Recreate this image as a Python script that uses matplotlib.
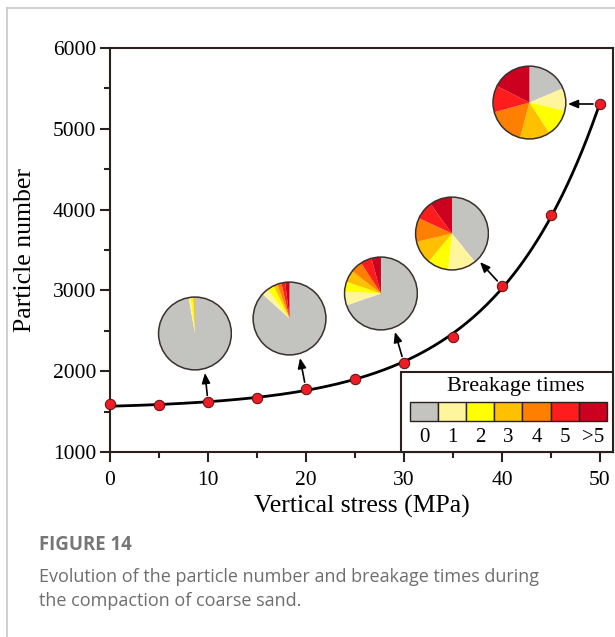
import numpy as np
import matplotlib.pyplot as plt
from matplotlib.lines import Line2D
from matplotlib.patches import Rectangle, Circle

# data
stress = [0, 5, 10, 15, 20, 25, 30, 35, 40, 45, 50]
particles = [1590, 1585, 1615, 1668, 1780, 1903, 2100, 2423, 3054, 3933, 5307]

breakage_labels = ['0', '1', '2', '3', '4', '5', '>5']
breakage_colors = ['#c3c3bf', '#fff59d', '#ffff00', '#ffc000', '#ff8000', '#ff1c1c', '#cc001f']

# pie fractions (%) at selected stresses
pie_stress = [10, 20, 30, 40, 50]
pie_10 = [97.2, 0.8, 1.2, 0.6, 0.2, 0.0, 0.0]
pie_20 = [86.7, 3.2, 2.9, 1.7, 1.9, 1.7, 1.9]
pie_30 = [69.7, 6.1, 4.4, 5.3, 5.3, 5.0, 4.2]
pie_40 = [39.2, 12.5, 9.4, 10.3, 10.6, 8.1, 10.0]
pie_50 = [18.6, 10.0, 12.2, 13.3, 16.5, 11.8, 17.5]
pie_fracs = [pie_10, pie_20, pie_30, pie_40, pie_50]
# where the pies sit (data coords) and where the arrows point
pie_cx = [8.67, 18.32, 27.65, 34.9, 42.8]
pie_cy = [2467, 2652, 2962, 3704, 5325]
arrow_x = [9.69, 19.39, 29.08, 37.76, 46.73]
arrow_y = [1978, 2163, 2485, 3351, 5307]

W, H = 615, 637
fig = plt.figure(figsize=(W / 100, H / 100), dpi=100)
ax_l, ax_r, ax_b, ax_t = 110 / W, 613 / W, 1 - 452 / H, 1 - 48 / H
ax = fig.add_axes([ax_l, ax_b, ax_r - ax_l, ax_t - ax_b])

serif = 'Liberation Serif'
spine_c = '#2a201c'
xmin, xmax, ymin, ymax = 0, 51.33, 1000, 6000
ax.set_xlim(xmin, xmax)
ax.set_ylim(ymin, ymax)

# smooth trend: y = a + b*exp(c*x), least squares
xs = np.array(stress, float)
ys = np.array(particles, float)
best = None
for c in np.linspace(0.03, 0.2, 400):
    A = np.column_stack([np.ones_like(xs), np.exp(c * xs)])
    coef, *_ = np.linalg.lstsq(A, ys, rcond=None)
    err = np.sum((A @ coef - ys) ** 2)
    if best is None or err < best[0]:
        best = (err, c, coef)
_, c, coef = best
xf = np.linspace(0, 50, 300)
ax.plot(xf, coef[0] + coef[1] * np.exp(c * xf), color='black', lw=2.0, zorder=3)
ax.plot(stress, particles, 'o', color='#ee1c24', mec='#5a1010', mew=0.7, ms=7.5, zorder=4, clip_on=False)

# arrows from points to pies
for s, hx, hy in zip(pie_stress, arrow_x, arrow_y):
    py = particles[stress.index(s)]
    ax.annotate('', xy=(hx, hy), xytext=(s, py),
                arrowprops=dict(arrowstyle='-|>,head_length=0.6,head_width=0.25',
                                color='black', lw=1.2, shrinkA=5, shrinkB=0), zorder=3)

ax.set_xticks(range(0, 51, 10))
ax.set_xticks(range(5, 51, 10), minor=True)
ax.set_yticks(range(1000, 6001, 1000))
ax.set_yticks(range(1500, 6000, 1000), minor=True)
ax.tick_params(which='major', length=7, width=1.5, color=spine_c, labelsize=15.5, pad=3)
ax.tick_params(axis='x', which='major', pad=7)
ax.tick_params(which='minor', length=4.5, width=1.5, color=spine_c)
for lab in ax.get_xticklabels() + ax.get_yticklabels():
    lab.set_fontfamily(serif)
for sp in ax.spines.values():
    sp.set_color(spine_c)
    sp.set_linewidth(1.5)
ax.set_xlabel('Vertical stress (MPa)', fontfamily=serif, fontsize=18.5, labelpad=3)
ax.set_ylabel('Particle number', fontfamily=serif, fontsize=18.5, labelpad=12)

# pies as inset axes (square in pixels)
ax_wpx = (ax_r - ax_l) * W
ax_hpx = (ax_t - ax_b) * H
rpx = 37.5
rx = rpx * (xmax - xmin) / ax_wpx
ry = rpx * (ymax - ymin) / ax_hpx
for cx, cy, fr in zip(pie_cx, pie_cy, pie_fracs):
    pax = ax.inset_axes([cx - rx, cy - ry, 2 * rx, 2 * ry], transform=ax.transData)
    pax.pie(fr, colors=breakage_colors, startangle=90, counterclock=False,
            wedgeprops=dict(linewidth=0), radius=1)
    pax.add_patch(Circle((0, 0), 1, fill=False, ec='#3a302c', lw=1.1))
    pax.set_xlim(-1.03, 1.03)
    pax.set_ylim(-1.03, 1.03)
    pax.set_aspect('equal')
    pax.axis('off')

# breakage legend box
lx0 = (401 - 110) / ax_wpx
ly1 = (452 - 372) / ax_hpx
ax.add_patch(Rectangle((lx0, 0), 1 - lx0, ly1, transform=ax.transAxes,
                       facecolor='white', edgecolor=spine_c, lw=1.5, zorder=5, clip_on=False))
ax.text((516 - 110) / ax_wpx, (452 - 386) / ax_hpx, 'Breakage times', transform=ax.transAxes,
        ha='center', va='center', fontfamily=serif, fontsize=16, zorder=6)
sq_x0 = (410 - 110) / ax_wpx
sq_w = 28.1 / ax_wpx
sq_y0 = (452 - 421) / ax_hpx
sq_h = 19.5 / ax_hpx
for i, (lab, col) in enumerate(zip(breakage_labels, breakage_colors)):
    ax.add_patch(Rectangle((sq_x0 + i * sq_w, sq_y0), sq_w, sq_h, transform=ax.transAxes,
                           facecolor=col, edgecolor=spine_c, lw=1.0, zorder=6, clip_on=False))
    ax.text(sq_x0 + (i + 0.5) * sq_w, (452 - 437) / ax_hpx, lab, transform=ax.transAxes,
            ha='center', va='center', fontfamily=serif, fontsize=15, zorder=6)

# card frame and caption
fig.add_artist(Line2D([7 / W, 7 / W], [0, 1 - 8 / H], color='#c8c8c8', lw=1.2))
fig.add_artist(Line2D([7 / W, 1], [1 - 8 / H, 1 - 8 / H], color='#c8c8c8', lw=1.2))
fig.text(39 / W, 1 - 545 / H, 'FIGURE 14', fontfamily='Open Sans', fontweight='bold',
         fontsize=13.4, color='#767676', va='center')
fig.text(39 / W, 1 - 577 / H, 'Evolution of the particle number and breakage times during',
         fontfamily='Open Sans', fontsize=13, color='#6e6e6e', va='center')
fig.text(39 / W, 1 - 601 / H, 'the compaction of coarse sand.',
         fontfamily='Open Sans', fontsize=13, color='#6e6e6e', va='center')

fig.savefig('out.png', dpi=100)
